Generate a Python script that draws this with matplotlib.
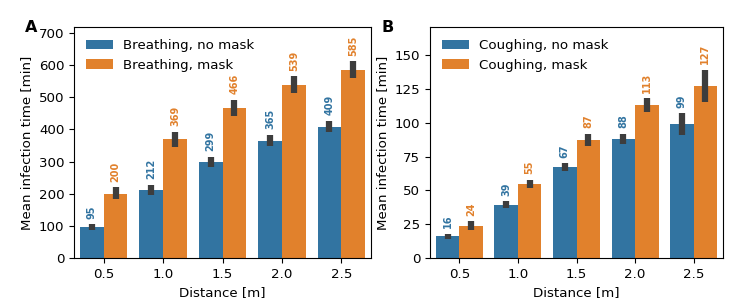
import numpy as np
import matplotlib.pyplot as plt

distances = ['0.5', '1.0', '1.5', '2.0', '2.5']

breath_nomask = [95, 212, 299, 365, 409]
breath_nomask_lo = [88, 197, 283, 348, 391]
breath_nomask_hi = [105, 228, 315, 384, 427]
breath_mask = [200, 369, 466, 539, 585]
breath_mask_lo = [185, 347, 441, 513, 561]
breath_mask_hi = [220, 393, 492, 566, 612]

cough_nomask = [16, 39, 67, 88, 99]
cough_nomask_lo = [14, 37, 64, 84, 91]
cough_nomask_hi = [18, 42, 70, 92, 107]
cough_mask = [24, 55, 87, 113, 127]
cough_mask_lo = [21, 52, 83, 108, 115]
cough_mask_hi = [27, 58, 92, 118, 139]

BLUE = '#3274a1'
ORANGE = '#e1812c'

plt.rcParams['font.size'] = 9.6


def panel(ax, series, ylim, yticks, letter):
    x = np.arange(len(distances))
    w = 0.4
    for k, (label, vals, lo, hi, color) in enumerate(series):
        pos = x - w / 2 + k * w
        ax.bar(pos, vals, width=w, color=color, label=label)
        ax.vlines(pos, lo, hi, color='#3d3d3d', lw=4.5, zorder=3)
        for p, v, h in zip(pos, vals, hi):
            ax.annotate(str(v), (p, h), xytext=(0, 4), textcoords='offset points',
                        rotation=90, ha='center', va='bottom', fontsize=7,
                        fontweight='bold', color=color)
    ax.set_xticks(x)
    ax.set_xticklabels(distances)
    ax.set_xlim(-0.5, len(distances) - 0.5)
    ax.set_ylim(*ylim)
    ax.set_yticks(yticks)
    ax.set_xlabel('Distance [m]')
    ax.set_ylabel('Mean infection time [min]')
    ax.legend(loc='upper left', frameon=False, fontsize=9.6)
    ax.text(-0.165, 1.0, letter, transform=ax.transAxes, fontsize=11.5,
            fontweight='bold', ha='left', va='center')


fig = plt.figure(figsize=(7.55, 3.07), dpi=100)
ax1 = fig.add_axes([74 / 755, 49 / 307, 297 / 755, 231 / 307])
ax2 = fig.add_axes([430 / 755, 49 / 307, 293 / 755, 231 / 307])

panel(ax1, [('Breathing, no mask', breath_nomask, breath_nomask_lo, breath_nomask_hi, BLUE),
            ('Breathing, mask', breath_mask, breath_mask_lo, breath_mask_hi, ORANGE)],
      (0, 719), range(0, 701, 100), 'A')
panel(ax2, [('Coughing, no mask', cough_nomask, cough_nomask_lo, cough_nomask_hi, BLUE),
            ('Coughing, mask', cough_mask, cough_mask_lo, cough_mask_hi, ORANGE)],
      (0, 170.7), range(0, 151, 25), 'B')

fig.savefig('out.png', dpi=100)
